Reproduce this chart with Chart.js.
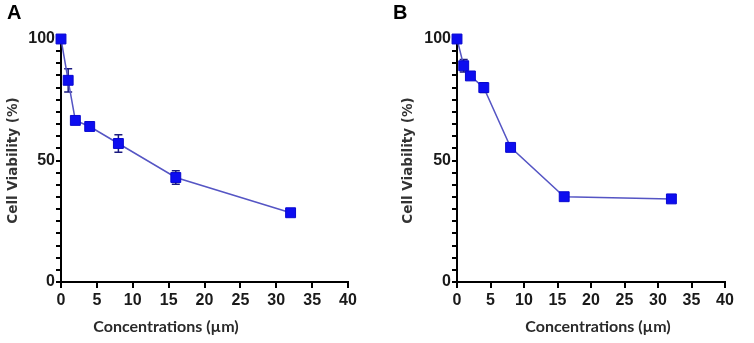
<!DOCTYPE html>
<html lang="en">
<head>
  <meta charset="UTF-8" />
  <title>Cell viability</title>
  <style>
    * { margin: 0; padding: 0; }
    body { width: 754px; height: 343px; background: #fff; position: relative; overflow: hidden; }
    .panel { position: absolute; top: 0; width: 377px; height: 343px; }
    .letter { position: absolute; top: 1px; font: bold 20px "Liberation Sans", Arial, sans-serif; color: #000; }
    .xtitle { position: absolute; top: 316px; font: bold 16px Lato, "Liberation Sans", Arial, sans-serif; color: #2a2a2a; white-space: nowrap; transform: translateX(-50%); }
  </style>
</head>
<body>
  <div class="panel" style="left:0"><canvas id="chartA"></canvas></div>
  <div class="panel" style="left:377px"><canvas id="chartB"></canvas></div>
  <div class="letter" style="left:7px">A</div>
  <div class="letter" style="left:393px">B</div>
  <div class="xtitle" style="left:166px">Concentrations (µm)</div>
  <div class="xtitle" style="left:598px">Concentrations (µm)</div>
  <script src="https://cdn.jsdelivr.net/npm/chart.js@4"></script>
  <script>
    const concentrations = [0, 1, 2, 4, 8, 16, 32];
    const viabilityA = [100, 83, 66.5, 64, 57, 43, 28.5];
    const errorA = [1, 4.8, 1.2, 1.5, 3.6, 2.8, 0.8];
    const viabilityB = [100, 89, 84.8, 80, 55.4, 35.1, 34.2];
    const errorB = [0.8, 2.6, 1.2, 2, 1, 1, 0.8];
    const yTickLabels = [0, 50, 100];
    const yTitle = "Cell Viability (%)";

    const tickFont = { family: "'Liberation Sans', Arial, sans-serif", size: 16, weight: "bold" };

    // draws the error bars under the squares
    const errorBars = {
      id: "errorBars",
      beforeDatasetsDraw(chart, args, opts) {
        const ctx = chart.ctx;
        const xs = chart.scales.x;
        const ys = chart.scales.y;
        ctx.save();
        ctx.strokeStyle = "#1a1a80";
        ctx.lineWidth = 1.5;
        concentrations.forEach((c, i) => {
          const x = xs.getPixelForValue(c);
          const top = ys.getPixelForValue(opts.values[i] + opts.errors[i]);
          const bot = ys.getPixelForValue(opts.values[i] - opts.errors[i]);
          ctx.beginPath();
          ctx.moveTo(x, top); ctx.lineTo(x, bot);
          ctx.moveTo(x - 4, top); ctx.lineTo(x + 4, top);
          ctx.moveTo(x - 4, bot); ctx.lineTo(x + 4, bot);
          ctx.stroke();
        });
        ctx.restore();
      }
    };

    function makeChart(id, values, errors, axisWidth, titlePad) {
      const ctx = document.getElementById(id).getContext("2d");
      return new Chart(ctx, {
        type: "line",
        data: {
          datasets: [{
            data: concentrations.map((c, i) => ({ x: c, y: values[i] })),
            borderColor: "#5555c4",
            borderWidth: 1.5,
            tension: 0,
            clip: false,
            pointStyle: "rect",
            pointRadius: 7,
            pointBackgroundColor: "#0d0df0",
            pointBorderColor: "#0808d0",
            pointBorderWidth: 1
          }]
        },
        options: {
          responsive: true,
          maintainAspectRatio: false,
          animation: false,
          events: [],
          layout: { padding: { left: 0, top: 39, right: 29, bottom: 0 } },
          plugins: {
            legend: { display: false },
            tooltip: { enabled: false },
            errorBars: { values: values, errors: errors }
          },
          scales: {
            x: {
              type: "linear",
              min: 0,
              max: 40,
              ticks: { stepSize: 5, color: "#1a1a1a", font: tickFont, padding: 3, maxRotation: 0 },
              grid: { drawOnChartArea: false, drawTicks: true, tickLength: 6, tickColor: "#000", lineWidth: 2 },
              border: { display: true, color: "#000", width: 2 },
              afterFit(scale) { scale.height = 61; }
            },
            y: {
              min: 0,
              max: 100,
              ticks: {
                stepSize: 5,
                color: "#1a1a1a",
                font: tickFont,
                padding: 1,
                autoSkip: false,
                callback: (v) => (yTickLabels.includes(v) ? v : "")
              },
              grid: { drawOnChartArea: false, drawTicks: true, tickLength: 5, tickColor: "#000", lineWidth: 2 },
              border: { display: true, color: "#000", width: 2 },
              title: {
                display: true,
                text: yTitle,
                color: "#333",
                font: { family: "'DejaVu Sans', 'Liberation Sans', sans-serif", size: 13.5, weight: "bold" },
                padding: { top: titlePad, bottom: 0 }
              },
              afterFit(scale) { scale.width = axisWidth; }
            }
          }
        },
        plugins: [errorBars]
      });
    }

    makeChart("chartA", viabilityA, errorA, 61, 5);
    makeChart("chartB", viabilityB, errorB, 80, 23);
  </script>
</body>
</html>
